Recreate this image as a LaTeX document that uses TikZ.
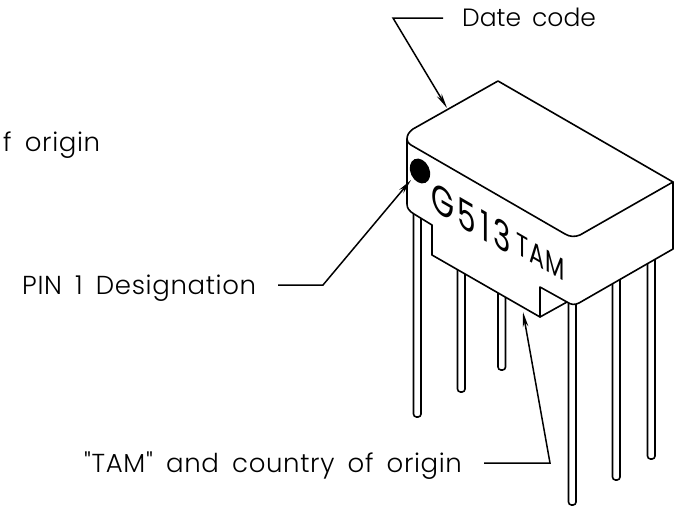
\documentclass[tikz,border=0pt]{standalone}
\usepackage{fontspec}
\setmainfont{Poppins Light}[WordSpace=1.6]
\newfontfamily\markfont{Poppins}[FakeStretch=0.72,LetterSpace=9]
\newfontfamily\tamfont{Poppins}[FakeStretch=0.72,LetterSpace=3]
\newfontfamily\widefont{Poppins Light}[WordSpace=1.7,LetterSpace=2.5]
\usetikzlibrary{arrows.meta}
\tikzset{
  outline/.style={line width=1.6pt,line join=round,line cap=round},
  pinline/.style={outline,fill=white,rounded corners=3pt},
  leader/.style={line width=1.5pt,line join=miter,-{Stealth[length=15pt,width=5.5pt]}},
  lbl/.style={inner sep=0pt,anchor=base west,font=\widefont\fontsize{26}{30}\selectfont},
  pkgmark/.style={inner sep=0pt,yslant=-0.58}
}
\begin{document}
\begin{tikzpicture}[x=1pt,y=-1pt]
\useasboundingbox (0,0) rectangle (683,506);
% pins
\draw[pinline] (413.5,210) -- (413.5,417) -- (421,417) -- (421,210);
\draw[pinline] (457.5,265) -- (457.5,392) -- (465,392) -- (465,265);
\draw[pinline] (498,285) -- (498,370) -- (505.5,370) -- (505.5,285);
\draw[pinline] (568.5,295) -- (568.5,505) -- (576,505) -- (576,295);
\draw[pinline] (612.5,275) -- (612.5,480) -- (620,480) -- (620,275);
\draw[pinline] (647.5,255) -- (647.5,459) -- (655,459) -- (655,255);
% body
\draw[outline,fill=white]
  (498,81) -- (673,182) -- (673,249) -- (579,303)
  .. controls (575,305) and (571,305) .. (567,302)
  -- (540,317) -- (432,255) -- (432,225) -- (414,214)
  .. controls (409,211) and (407,208) .. (407,204)
  -- (407,139)
  .. controls (407,135) and (409,132) .. (413,129) -- cycle;
\draw[outline] (407,139) .. controls (407,141) and (408,143) .. (411,145)
  -- (565,234) .. controls (570,237) and (575,237) .. (580,235) -- (673,182);
\draw[outline] (540,317) -- (540,287) -- (567,302);
% pin 1 dot
\fill[rotate around={25:(420,171)}] (420,171) ellipse [x radius=9.5pt,y radius=13pt];
% marking
\node[pkgmark,font=\markfont\fontsize{41}{44}\selectfont] (mk) at (471,218) {G513};
\node[pkgmark,font=\tamfont\fontsize{31}{34}\selectfont] (tam) at (541,257) {TAM};
% labels
\node[lbl,font=\rmfamily\fontsize{25}{30}\selectfont] (date) at (462,27) {Date code};
\node[lbl] (frag) at (3,151) {f origin};
\node[lbl] (pin) at (22,294) {PIN 1 Designation};
\node[lbl] (cty) at (84,472) {"TAM" and country of origin};
% leaders
\coordinate (d0) at (443,18); \coordinate (d1) at (393,18); \coordinate (d2) at (447,108);
\coordinate (p0) at (278,285); \coordinate (p1) at (323,285); \coordinate (p2) at (411,180);
\coordinate (c0) at (484,463); \coordinate (c1) at (550,463); \coordinate (c2) at (523,312);
\draw[leader] (d0) -- (d1) -- (d2);
\draw[leader] (p0) -- (p1) -- (p2);
\draw[leader] (c0) -- (c1) -- (c2);
\end{tikzpicture}
\end{document}
